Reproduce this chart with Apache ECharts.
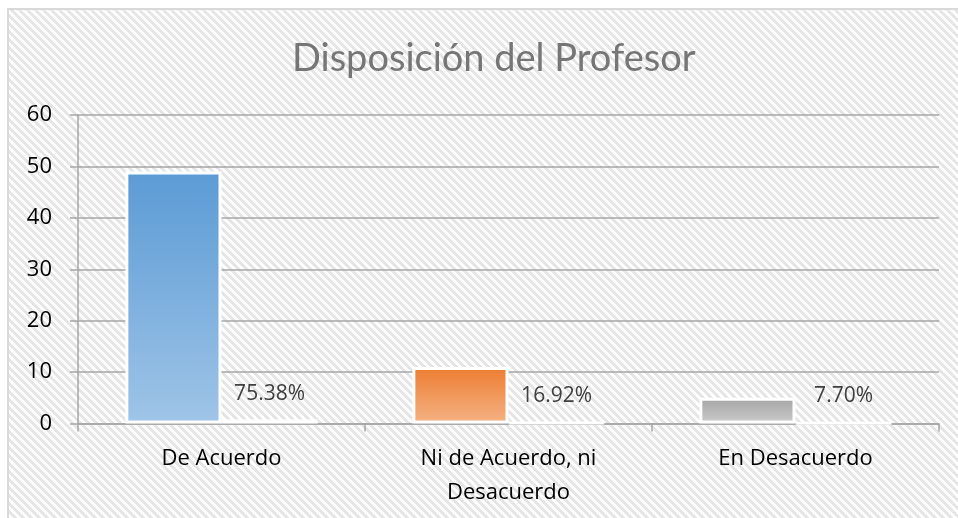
<!DOCTYPE html>
<html>
<head>
<meta charset="utf-8">
<script src="https://cdn.jsdelivr.net/npm/echarts@6/dist/echarts.min.js"></script>
<style>html,body{margin:0;padding:0;background:#fff}#c{width:958px;height:518px}</style>
</head>
<body>
<div id="c"></div>
<script>
var titleText = 'Disposición del Profesor';
var categories = ['De Acuerdo', 'Ni de Acuerdo, ni\nDesacuerdo', 'En Desacuerdo'];
var counts = [49, 11, 5];
var shares = [0.7538, 0.1692, 0.0770];
var yTicks = [0, 10, 20, 30, 40, 50, 60];

var barTop = ['#5b9bd5', '#ed7d31', '#a5a5a5'];
var barBottom = ['#9fc4e7', '#f5b285', '#cbcbcb'];

// hatched background tile
var tile = document.createElement('canvas');
tile.width = 8; tile.height = 8;
var tctx = tile.getContext('2d');
tctx.fillStyle = '#ffffff'; tctx.fillRect(0, 0, 8, 8);
tctx.fillStyle = '#e5e5e5';
for (var yy = 0; yy < 8; yy++) for (var xx = 0; xx < 8; xx++) {
  if (((xx - yy) % 8 + 8) % 8 < 4) tctx.fillRect(xx, yy, 1, 1);
}

var chart = echarts.init(document.getElementById('c'), null, {renderer: 'canvas'});
var font = '"Open Sans", "Noto Sans", sans-serif';
chart.setOption({
  backgroundColor: '#ffffff',
  animation: false,
  graphic: [{
    type: 'rect', z: -10, silent: true,
    shape: {x: 8, y: 9, width: 960, height: 520},
    style: {fill: {image: tile, repeat: 'repeat'}, stroke: '#d9d9d9', lineWidth: 2}
  }],
  title: {
    text: titleText, left: 287, top: 35,
    textStyle: {fontFamily: 'Lato, "Open Sans", sans-serif', fontWeight: 400, fontSize: 38, color: '#767676'}
  },
  grid: {left: 78, right: 19, top: 115, bottom: 94.5, containLabel: false},
  xAxis: {
    type: 'category', data: categories,
    axisLine: {lineStyle: {color: '#a6a6a6', width: 1.5}},
    axisTick: {show: true, length: 8, lineStyle: {color: '#a6a6a6', width: 1.5}},
    axisLabel: {fontFamily: font, fontSize: 22, color: '#000', margin: 18, lineHeight: 34}
  },
  yAxis: {
    type: 'value', min: yTicks[0], max: yTicks[yTicks.length - 1], interval: 10,
    axisLine: {show: true, lineStyle: {color: '#a6a6a6', width: 1.5}},
    axisTick: {show: true, length: 8, lineStyle: {color: '#a6a6a6', width: 1.5}},
    splitLine: {lineStyle: {color: '#a6a6a6', width: 1.5}},
    axisLabel: {fontFamily: font, fontSize: 22, color: '#000', margin: 26}
  },
  series: [{
    type: 'bar', barGap: '0%', barCategoryGap: '33%',
    data: counts.map(function (v, i) {
      return {value: v, itemStyle: {
        color: new echarts.graphic.LinearGradient(0, 0, 0, 1, [
          {offset: 0, color: barTop[i]}, {offset: 1, color: barBottom[i]}]),
        borderColor: '#ffffff', borderWidth: 3}};
    })
  }, {
    type: 'bar', barGap: '0%', barCategoryGap: '33%',
    data: shares,
    itemStyle: {color: '#ffffff', borderColor: '#ffffff', borderWidth: 3},
    label: {
      show: true, position: 'top', distance: 15,
      fontFamily: font, fontSize: 21, color: '#404040',
      formatter: function (p) { return (p.value * 100).toFixed(2) + '%'; }
    }
  }]
});
</script>
</body>
</html>
